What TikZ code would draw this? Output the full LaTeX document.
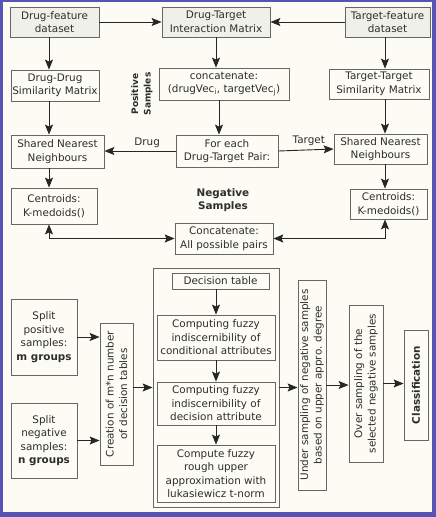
\documentclass[tikz,border=0pt]{standalone}
\usepackage{fontspec}
\setmainfont{DejaVu Sans}
\usetikzlibrary{arrows.meta}
\definecolor{frameblue}{RGB}{88,84,182}
\definecolor{paper}{RGB}{252,252,244}
\definecolor{boxgrey}{RGB}{240,240,235}
\definecolor{inkgrey}{RGB}{45,45,45}
\begin{document}
\begin{tikzpicture}[
  x=1pt, y=-1pt,
  font=\fontsize{10.4}{13.5}\selectfont,
  box/.style={rectangle, draw=black!60, line width=0.8pt, text=inkgrey, align=center, inner sep=1pt},
  datbox/.style={box, fill=boxgrey},
  vbox/.style={box, rotate=90},
  lbl/.style={text=inkgrey, align=center, font=\fontsize{10.4}{13.5}\selectfont\bfseries},
  arr/.style={-{Stealth[length=10pt,width=8pt,inset=2pt]}, line width=0.9pt, black!85},
  darr/.style={{Stealth[length=10pt,width=8pt,inset=2pt]}-{Stealth[length=10pt,width=8pt,inset=2pt]}, line width=0.9pt, black!85}
]
% frame
\useasboundingbox (0,0) rectangle (436,517);
\fill[frameblue] (0,0) rectangle (436,517);
\fill[paper] (3,2) rectangle (432,512);

% upper part
\node[datbox, minimum width=89, minimum height=30] (dfeat) at (54.5,22) {Drug-feature\\dataset};
\node[datbox, minimum width=108, minimum height=30] (dtim) at (216,22) {Drug-Target\\Interaction Matrix};
\node[datbox, minimum width=85, minimum height=30] (tfeat) at (387.5,22) {Target-feature\\dataset};
\node[box, minimum width=88, minimum height=31] (ddsm) at (55,85.5) {Drug-Drug\\Similarity Matrix};
\node[box, minimum width=130, minimum height=32] (concat) at (224,84) {concatenate:\\(drugVec\textsubscript{i}, targetVec\textsubscript{j})};
\node[box, minimum width=100, minimum height=30] (ttsm) at (379,84) {Target-Target\\Similarity Matrix};
\node[lbl, rotate=90, font=\fontsize{9}{12.5}\selectfont\bfseries] (posl) at (142,94) {Positive\\Samples};
\node[box, minimum width=93, minimum height=33] (snnl) at (57.5,151.5) {Shared Nearest\\Neighbours};
\node[box, minimum width=102, minimum height=32] (pair) at (227,151) {For each\\Drug-Target Pair:};
\node[box, minimum width=93, minimum height=30] (snnr) at (380.5,149) {Shared Nearest\\Neighbours};
\node[box, minimum width=86, minimum height=36] (centl) at (54,206) {Centroids:\\K-medoids()};
\node[box, minimum width=77, minimum height=30] (centr) at (388.5,204) {Centroids:\\K-medoids()};
\node[lbl] (negl) at (223,200) {Negative\\Samples};
\node[box, minimum width=98, minimum height=31] (allp) at (224,238.5) {Concatenate:\\All possible pairs};

\coordinate (lcol) at (49,0);
\coordinate (rcol) at (385,0);

\draw[arr] (dfeat.east) -- (dtim.west);
\draw[arr] (tfeat.west) -- (dtim.east);
\draw[arr] (dtim.south) -- (dtim.south |- concat.north);
\draw[arr] ([xshift=-5pt]concat.south) -- ([xshift=-5pt]concat.south |- pair.north);
\draw[arr] (dfeat.south -| lcol) -- (ddsm.north -| lcol);
\draw[arr] (ddsm.south -| lcol) -- (snnl.north -| lcol);
\draw[arr] (snnl.south -| lcol) -- (centl.north -| lcol);
\draw[arr] (tfeat.south -| rcol) -- (ttsm.north -| rcol);
\draw[arr] (ttsm.south -| rcol) -- (snnr.north -| rcol);
\draw[arr] (snnr.south -| rcol) -- (centr.north -| rcol);
\draw[arr] (pair.west) -- node[above, pos=0.4, text=inkgrey] {Drug} (pair.west -| snnl.east);
\draw[arr] (pair.east) -- node[above, pos=0.55, text=inkgrey] {Target} (snnr.west);
\draw[darr] (centl.south -| lcol) |- (allp.west);
\draw[darr] (centr.south -| rcol) |- (allp.east);

% lower part
\node[box, minimum width=66, minimum height=76] (splitp) at (44,337) {Split\\positive\\samples:\\\textbf{m groups}};
\node[box, minimum width=66, minimum height=75] (splitn) at (44,440.5) {Split\\negative\\samples:\\\textbf{n groups}};
\node[vbox, minimum width=142, minimum height=33] (cre) at (116.5,394) {Creation of m*n number\\of decision tables};
\node[box, minimum width=126, minimum height=239] (big) at (216,387.5) {};
\node[box, minimum width=97, minimum height=16] (dtab) at (220.5,281) {Decision table};
\node[box, minimum width=118, minimum height=45] (cond) at (216,337.5) {Computing fuzzy\\indiscernibility of\\conditional attributes};
\node[box, minimum width=118, minimum height=43] (dec) at (216,403.5) {Computing fuzzy\\indiscernibility of\\decision attribute};
\node[box, minimum width=118, minimum height=57] (upper) at (216,473.5) {Compute fuzzy\\rough upper\\approximation with\\lukasiewicz t-norm};
\node[vbox, minimum width=210, minimum height=28] (under) at (312,385) {Under sampling of negative samples\\based on upper appro. degree};
\node[vbox, minimum width=157, minimum height=34] (over) at (366,383.5) {Over sampling of the\\selected negative samples};
\node[vbox, minimum width=110, minimum height=24, font=\fontsize{10.4}{13.5}\selectfont\bfseries] (cls) at (416,385) {Classification};

\draw[arr] (splitp.east) -- (splitp.east -| cre.north);
\draw[arr] (splitn.east) -- (splitn.east -| cre.north);
\draw[arr] (cre.south |- big.west) -- (big.west);
\draw[arr] (dtab.south -| cond.north) -- (cond.north);
\draw[arr] (cond.south) -- (dec.north);
\draw[arr] (dec.south) -- (upper.north);
\draw[arr] (big.east) -- (big.east -| under.north);
\draw[arr] (under.south) -- (under.south -| over.north);
\draw[arr] (over.south) -- (over.south -| cls.north);
\end{tikzpicture}
\end{document}
